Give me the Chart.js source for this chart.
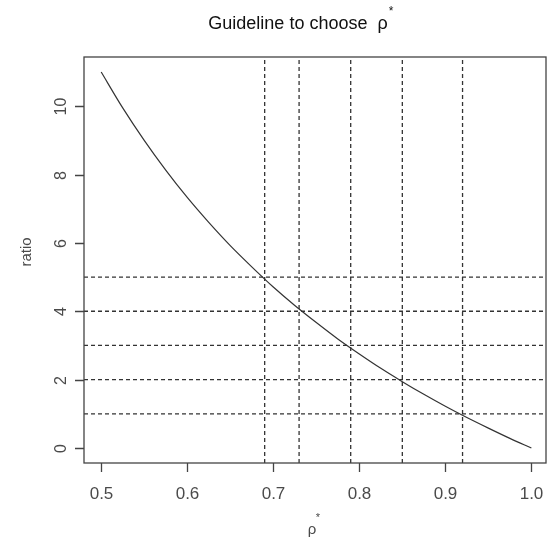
<!DOCTYPE html>
<html>
<head>
<meta charset="utf-8">
<script src="https://cdn.jsdelivr.net/npm/chart.js@4/dist/chart.umd.min.js"></script>
<style>
  body { margin: 0; background: #fff; }
  canvas { display: block; }
</style>
</head>
<body>
<canvas id="chart" width="549" height="542"></canvas>
<script>
// ratio curve vs rho*
const rho = [0.5, 0.525, 0.55, 0.575, 0.6, 0.625, 0.65, 0.675, 0.7, 0.725, 0.75,
             0.775, 0.8, 0.825, 0.85, 0.875, 0.9, 0.925, 0.95, 0.975, 1.0];
const ratio = [11.0, 9.95, 9.0, 8.13, 7.33, 6.6, 5.92, 5.3, 4.71, 4.17, 3.67,
               3.19, 2.75, 2.33, 1.94, 1.57, 1.22, 0.89, 0.58, 0.28, 0];

// guide lines
const guideRatio = [1, 2, 3, 4, 5];
const guideRho = [0.69, 0.73, 0.79, 0.85, 0.92];

// axis ticks
const xTicks = [0.5, 0.6, 0.7, 0.8, 0.9, 1.0];
const xTickLabels = ["0.5", "0.6", "0.7", "0.8", "0.9", "1.0"];
const yTicks = [0, 2, 4, 6, 8, 10];
const yTickLabels = ["0", "2", "4", "6", "8", "10"];

const xMin = 0.48, xMax = 1.017;
const yMin = -0.44, yMax = 11.44;

const ink = "#333";
const font = "'Liberation Sans', Arial, sans-serif";

const datasets = [{
  data: rho.map((x, i) => ({ x, y: ratio[i] })),
  showLine: true,
  borderColor: ink,
  borderWidth: 1.2,
  pointRadius: 0,
  tension: 0.3
}];

for (const r of guideRatio) {
  datasets.push({
    data: [{ x: xMin, y: r }, { x: xMax, y: r }],
    showLine: true, borderColor: ink, borderWidth: 1.3, borderDash: [4, 3], pointRadius: 0
  });
}
for (const p of guideRho) {
  datasets.push({
    data: [{ x: p, y: yMin }, { x: p, y: yMax }],
    showLine: true, borderColor: ink, borderWidth: 1.3, borderDash: [4, 3], pointRadius: 0
  });
}

// base-graphics style frame, ticks and labels
const frame = {
  id: "frame",
  afterDraw(chart) {
    const { ctx, chartArea: a, scales: { x, y } } = chart;
    ctx.save();
    ctx.strokeStyle = "#444";
    ctx.lineWidth = 1.3;
    ctx.strokeRect(a.left, a.top, a.right - a.left, a.bottom - a.top);

    ctx.fillStyle = "#4a4a4a";
    ctx.font = "17px " + font;

    // x axis
    ctx.textAlign = "center";
    ctx.textBaseline = "middle";
    ctx.beginPath();
    for (let i = 0; i < xTicks.length; i++) {
      const px = Math.round(x.getPixelForValue(xTicks[i])) + 0.5;
      ctx.moveTo(px, a.bottom);
      ctx.lineTo(px, a.bottom + 9);
      ctx.fillText(xTickLabels[i], px, 494);
    }
    ctx.stroke();

    // y axis, labels read bottom to top
    ctx.font = "16px " + font;
    ctx.beginPath();
    for (let i = 0; i < yTicks.length; i++) {
      const py = Math.round(y.getPixelForValue(yTicks[i])) + 0.5;
      ctx.moveTo(a.left, py);
      ctx.lineTo(a.left - 9, py);
      ctx.save();
      ctx.translate(62, py);
      ctx.rotate(-Math.PI / 2);
      ctx.fillText(yTickLabels[i], 0, 0);
      ctx.restore();
    }
    ctx.stroke();

    // axis titles
    ctx.font = "15px " + font;
    ctx.save();
    ctx.translate(27, 252);
    ctx.rotate(-Math.PI / 2);
    ctx.fillText("ratio", 0, 0);
    ctx.restore();

    ctx.fillText("ρ", 312, 530);
    ctx.font = "11px " + font;
    ctx.fillText("*", 318, 518);

    // main title
    ctx.fillStyle = "#111";
    ctx.font = "18px " + font;
    ctx.textAlign = "left";
    const t = "Guideline to choose  ρ";
    const w = ctx.measureText(t).width;
    const tx = 298 - w / 2;
    ctx.fillText(t, tx, 24);
    ctx.font = "12px " + font;
    ctx.fillText("*", tx + w + 1, 12);
    ctx.restore();
  }
};

new Chart(document.getElementById("chart"), {
  type: "scatter",
  data: { datasets },
  options: {
    responsive: false,
    animation: false,
    layout: { padding: { left: 84, top: 57, right: 3, bottom: 79 } },
    plugins: { legend: { display: false }, tooltip: { enabled: false } },
    scales: {
      x: { type: "linear", min: xMin, max: xMax, display: false },
      y: { type: "linear", min: yMin, max: yMax, display: false }
    }
  },
  plugins: [frame]
});
</script>
</body>
</html>
